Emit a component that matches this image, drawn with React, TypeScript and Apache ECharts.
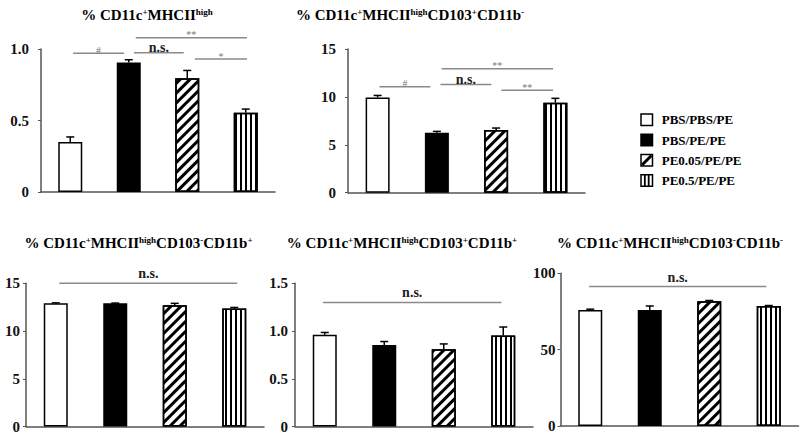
import React, { useEffect, useRef } from "react";
import * as echarts from "echarts";

// ---------- data ----------
const categories = ["PBS/PBS/PE", "PBS/PE/PE", "PE0.05/PE/PE", "PE0.5/PE/PE"];

const titles = [
  "% CD11c{s|+}MHCII{s|high}",
  "% CD11c{s|+}MHCII{s|high}CD103{s|+}CD11b{s|-}",
  "% CD11c{s|+}MHCII{s|high}CD103{s|-}CD11b{s|+}",
  "% CD11c{s|+}MHCII{s|high}CD103{s|+}CD11b{s|+}",
  "% CD11c{s|+}MHCII{s|high}CD103{s|-}CD11b{s|-}",
];

const meansA = [0.35, 0.905, 0.795, 0.555];
const errsA = [0.035, 0.02, 0.055, 0.025];
const meansB = [9.95, 6.25, 6.55, 9.4];
const errsB = [0.2, 0.15, 0.2, 0.45];
const meansC = [12.9, 12.9, 12.7, 12.35];
const errsC = [0.05, 0.03, 0.2, 0.12];
const meansD = [0.96, 0.855, 0.81, 0.952];
const errsD = [0.025, 0.035, 0.055, 0.09];
const meansE = [76, 76, 81.7, 78.6];
const errsE = [0.5, 2.6, 0.5, 0.3];

// significance brackets: [from (category units), to (category units), y value, label]
const sigA: [number, number, number, string][] = [
  [0.05, 0.92, 0.97, "#"],
  [1.09, 1.94, 0.974, "n.s."],
  [1.12, 3.02, 1.079, "**"],
  [2.13, 3.02, 0.93, "*"],
];
const sigB: [number, number, number, string][] = [
  [0.03, 0.89, 11.06, "#"],
  [1.06, 1.92, 11.3, "n.s."],
  [1.08, 2.96, 12.94, "**"],
  [2.09, 2.96, 10.7, "**"],
];
const sigC: [number, number, number, string][] = [[0.06, 3.05, 15.0, "n.s."]];
const sigD: [number, number, number, string][] = [[-0.03, 2.97, 1.3, "n.s."]];
const sigE: [number, number, number, string][] = [[-0.02, 2.96, 91.3, "n.s."]];

const yMax = [1, 15, 15, 1.5, 100];
const yInterval = [0.5, 5, 5, 0.5, 50];

// ---------- layout / style ----------
const FONT = "'Liberation Serif', 'Times New Roman', Times, serif";
const grids = [
  { left: 41, top: 49, width: 234, height: 143 },
  { left: 348, top: 49, width: 237, height: 143.7 },
  { left: 26, top: 283.3, width: 238, height: 144 },
  { left: 295, top: 283.3, width: 238, height: 143.4 },
  { left: 560.5, top: 273.3, width: 238, height: 152.7 },
];
const labelMargins = [12, 12, 6, 7, 5];
const titlePos = [
  [147, 15],
  [410, 15],
  [138.5, 243],
  [402, 243],
  [670, 243],
];
const sigTextOffset = [2, 2, -3, -3, -2];

const barStyles: any[] = [
  { color: "#fff", borderColor: "#000", borderWidth: 1.5 },
  { color: "#000", borderColor: "#000", borderWidth: 1.5 },
  {
    color: "#fff",
    borderColor: "#000",
    borderWidth: 1.5,
    decal: {
      symbol: "rect",
      color: "#000",
      backgroundColor: "#fff",
      dashArrayX: [1, 0],
      dashArrayY: [2.5, 4],
      rotation: -Math.PI / 4,
      symbolSize: 1,
    },
  },
  {
    color: "#fff",
    borderColor: "#000",
    borderWidth: 1.5,
    decal: {
      symbol: "rect",
      color: "#000",
      backgroundColor: "#fff",
      dashArrayX: [2, 3],
      dashArrayY: [1, 0],
      rotation: 0,
      symbolSize: 1,
    },
  },
];

const AXIS_COLOR = "#555";

export default function App() {
  const ref = useRef<HTMLDivElement>(null);

  useEffect(() => {
    if (!ref.current) return;
    const chart = echarts.init(ref.current, undefined, { renderer: "svg" });

    const allMeans = [meansA, meansB, meansC, meansD, meansE];
    const allErrs = [errsA, errsB, errsC, errsD, errsE];
    const allSigs = [sigA, sigB, sigC, sigD, sigE];

    const xAxis: any[] = [];
    const yAxis: any[] = [];
    const series: any[] = [];

    allMeans.forEach((means, k) => {
      xAxis.push({
        type: "category",
        gridIndex: k,
        data: categories,
        axisLine: { lineStyle: { color: AXIS_COLOR, width: 1.5 } },
        axisTick: { show: false },
        axisLabel: { show: false },
      });
      yAxis.push({
        type: "value",
        gridIndex: k,
        min: 0,
        max: yMax[k],
        interval: yInterval[k],
        splitLine: { show: false },
        axisLine: { show: true, lineStyle: { color: AXIS_COLOR, width: 1.5 } },
        axisTick: { show: true, length: 3, lineStyle: { color: AXIS_COLOR, width: 1 } },
        axisLabel: {
          margin: labelMargins[k],
          color: "#111",
          fontFamily: FONT,
          fontWeight: "bold",
          fontSize: 15,
          formatter: (v: number) =>
            v === 0 ? "0" : yInterval[k] < 1 ? v.toFixed(1) : String(v),
        },
      });
      series.push({
        type: "bar",
        xAxisIndex: k,
        yAxisIndex: k,
        barWidth: 24,
        data: means.map((v, i) => ({ value: v, itemStyle: barStyles[i] })),
        silent: true,
      });
      const errs = allErrs[k];
      series.push({
        type: "custom",
        xAxisIndex: k,
        yAxisIndex: k,
        silent: true,
        data: means.map((v, i) => [i, v, v + errs[i]]),
        renderItem: (params: any, api: any) => {
          const p0 = api.coord([api.value(0), api.value(1)]);
          const p1 = api.coord([api.value(0), api.value(2)]);
          const cap = 4;
          return {
            type: "group",
            children: [
              {
                type: "line",
                shape: { x1: p0[0], y1: p0[1], x2: p1[0], y2: p1[1] },
                style: { stroke: "#000", lineWidth: 1.5 },
              },
              {
                type: "line",
                shape: { x1: p1[0] - cap, y1: p1[1], x2: p1[0] + cap, y2: p1[1] },
                style: { stroke: "#000", lineWidth: 1.5 },
              },
            ],
          };
        },
      });
      const sigs = allSigs[k];
      series.push({
        type: "custom",
        xAxisIndex: k,
        yAxisIndex: k,
        silent: true,
        data: sigs.map((s) => [0, s[2]]),
        renderItem: (params: any, api: any) => {
          const s = sigs[params.dataIndex];
          const c0 = api.coord([0, api.value(1)]);
          const c1 = api.coord([1, api.value(1)]);
          const step = c1[0] - c0[0];
          const x1 = c0[0] + s[0] * step;
          const x2 = c0[0] + s[1] * step;
          const y = c0[1];
          const isNs = s[3] === "n.s.";
          return {
            type: "group",
            children: [
              {
                type: "line",
                shape: { x1, y1: y, x2, y2: y },
                style: { stroke: "#8a8a8a", lineWidth: 1.5 },
              },
              {
                type: "text",
                x: (x1 + x2) / 2,
                y: y + sigTextOffset[k],
                style: {
                  text: s[3],
                  textAlign: "center",
                  textVerticalAlign: "bottom",
                  fill: isNs ? "#222" : "#777",
                  fontFamily: FONT,
                  fontWeight: isNs ? "bold" : "normal",
                  fontSize: isNs ? 14 : 10,
                },
              },
            ],
          };
        },
      });
    });

    const graphic: any[] = [];
    titles.forEach((t, k) => {
      graphic.push({
        type: "text",
        x: titlePos[k][0],
        y: titlePos[k][1],
        style: {
          text: t,
          textAlign: "center",
          textVerticalAlign: "middle",
          fill: "#000",
          fontFamily: FONT,
          fontWeight: "bold",
          fontSize: 15,
          rich: {
            s: {
              fontFamily: FONT,
              fontWeight: "bold",
              fontSize: 9,
              verticalAlign: "top",
              fill: "#000",
            },
          },
        },
      });
    });

    // legend
    const lx = 641;
    const ly0 = 119.7;
    const lstep = 20.3;
    const box = 11.5;
    categories.forEach((c, i) => {
      const cy = ly0 + i * lstep;
      const top = cy - box / 2;
      const children: any[] = [
        {
          type: "rect",
          shape: { x: lx, y: top, width: box, height: box },
          style: { fill: i === 1 ? "#000" : "#fff", stroke: "#000", lineWidth: 1.5 },
        },
      ];
      if (i === 2) {
        children.push({
          type: "line",
          shape: { x1: lx + 1, y1: top + box - 1, x2: lx + box - 1, y2: top + 1 },
          style: { stroke: "#000", lineWidth: 3 },
        });
      }
      if (i === 3) {
        [1 / 3, 2 / 3].forEach((f) =>
          children.push({
            type: "line",
            shape: { x1: lx + box * f, y1: top, x2: lx + box * f, y2: top + box },
            style: { stroke: "#000", lineWidth: 1.8 },
          })
        );
      }
      children.push({
        type: "text",
        x: 661.7,
        y: cy,
        style: {
          text: c,
          textAlign: "left",
          textVerticalAlign: "middle",
          fill: "#000",
          fontFamily: FONT,
          fontWeight: "bold",
          fontSize: 13,
        },
      });
      graphic.push({ type: "group", children });
    });

    chart.setOption({
      animation: false,
      backgroundColor: "#fff",
      grid: grids.map((g) => ({ ...g, containLabel: false })),
      xAxis,
      yAxis,
      series,
      graphic,
    });

    return () => chart.dispose();
  }, []);

  return (
    <div
      ref={ref}
      style={{ position: "fixed", left: 0, top: 0, width: 800, height: 434 }}
    />
  );
}
